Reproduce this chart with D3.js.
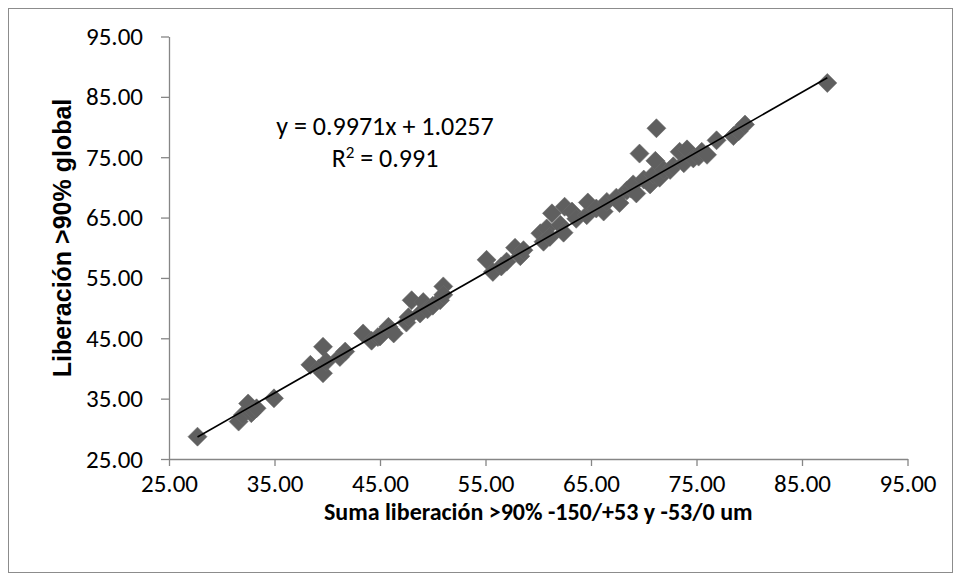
<!DOCTYPE html>
<html>
<head>
<meta charset="utf-8">
<script src="https://cdn.jsdelivr.net/npm/d3@7"></script>
<style>
  html, body { margin: 0; padding: 0; background: #fff; }
  svg { display: block; }
</style>
</head>
<body>
<svg id="chart" width="961" height="581"></svg>
<script>
// Liberación individual (suma de fracciones) vs liberación global, %
const xVals = [
  27.7, 31.6, 32.0, 32.5, 32.8, 33.0, 33.3, 34.95,
  38.4, 39.2, 39.6, 39.6, 39.9, 41.2, 41.7,
  43.4, 44.2, 44.8, 45.0, 45.8, 46.0, 46.3, 47.5, 47.7, 48.0, 48.8, 49.1, 49.5, 50.0, 50.7, 51.0, 51.0,
  55.1, 55.7, 56.5, 57.0, 57.8, 58.3, 58.6,
  60.2, 60.5, 60.8, 61.1, 61.3, 62.1, 62.4, 62.5, 63.2, 63.6, 64.6, 64.7, 65.5, 66.2, 66.5, 67.4, 67.7,
  68.4, 68.8, 69.0, 69.3, 69.6, 70.0, 70.6, 70.9, 71.1, 71.2, 71.5, 71.9, 72.5, 72.8,
  73.4, 73.8, 74.1, 74.7, 75.2, 75.5, 76.0, 76.9, 78.5, 79.0, 79.6, 87.4
];
const yVals = [
  28.7, 31.2, 32.3, 34.2, 32.6, 33.0, 33.4, 35.05,
  40.6, 40.0, 39.2, 43.6, 41.1, 41.9, 42.8,
  45.8, 44.6, 45.2, 45.3, 46.9, 46.4, 45.8, 47.6, 48.5, 51.3, 49.1, 51.0, 49.8, 50.4, 51.3, 53.6, 52.2,
  58.0, 56.0, 56.9, 57.7, 60.0, 58.6, 59.6,
  62.4, 61.0, 63.2, 61.8, 65.7, 63.8, 62.5, 66.8, 66.0, 64.8, 65.4, 67.5, 66.5, 66.0, 67.6, 68.3, 67.4,
  69.5, 69.8, 70.5, 69.0, 75.6, 71.3, 70.5, 72.1, 74.4, 79.8, 71.6, 72.9, 72.9, 73.5,
  75.9, 74.0, 76.3, 74.8, 75.1, 75.9, 75.4, 77.8, 78.5, 79.3, 80.4, 87.3
];
const tickVals = [25, 35, 45, 55, 65, 75, 85, 95];
const slope = 0.9971, intercept = 1.0257, r2 = 0.991;
const xTitle = "Suma liberación >90% -150/+53 y -53/0 um";
const yTitle = "Liberación >90% global";

const svg = d3.select("#chart");
const W = 961, H = 581;
const labelFont = "Carlito, Calibri, Lato, sans-serif";
const labelSize = "25px";

svg.append("rect").attr("x", 0).attr("y", 0).attr("width", W).attr("height", H).attr("fill", "#fff");
svg.append("rect")
  .attr("x", 8.5).attr("y", 8.5).attr("width", 944).attr("height", 564)
  .attr("fill", "none").attr("stroke", "#8c8c8c").attr("stroke-width", 1);

const x = d3.scaleLinear().domain([25, 95]).range([169, 907.5]);
const y = d3.scaleLinear().domain([25, 95]).range([459, 36.5]);
const fmt = d3.format(".2f");

const xAxis = svg.append("g")
  .attr("transform", `translate(0,${y(25)})`)
  .call(d3.axisBottom(x).tickValues(tickVals).tickFormat(fmt).tickSizeInner(7).tickSizeOuter(0).tickPadding(8));
const yAxis = svg.append("g")
  .attr("transform", `translate(${x(25)},0)`)
  .call(d3.axisLeft(y).tickValues(tickVals).tickFormat(fmt).tickSizeInner(8).tickSizeOuter(0).tickPadding(18));

[xAxis, yAxis].forEach(g => {
  g.select(".domain").attr("stroke", "#868686").attr("stroke-width", 1.3);
  g.selectAll(".tick line").attr("stroke", "#868686").attr("stroke-width", 1.3);
  g.selectAll(".tick text")
    .attr("fill", "#000")
    .style("font-family", labelFont)
    .style("font-size", labelSize);
});

// data markers (diamonds)
const pts = xVals.map((v, i) => [v, yVals[i]]);
const half = 9.5;
svg.append("g").selectAll("path")
  .data(pts)
  .join("path")
  .attr("d", d => {
    const cx = x(d[0]), cy = y(d[1]);
    return `M${cx},${cy - half}L${cx + half},${cy}L${cx},${cy + half}L${cx - half},${cy}Z`;
  })
  .attr("fill", "#5f5f5f")
  .attr("stroke", "#6a6a6a")
  .attr("stroke-width", 0.6);

// linear trendline over the data range
const xMin = d3.min(xVals), xMax = d3.max(xVals);
svg.append("line")
  .attr("x1", x(xMin)).attr("y1", y(slope * xMin + intercept))
  .attr("x2", x(xMax)).attr("y2", y(slope * xMax + intercept))
  .attr("stroke", "#000").attr("stroke-width", 1.6);

// trendline equation, both lines centred on one axis
const eqCx = 385;
svg.append("text")
  .attr("x", eqCx).attr("y", 135)
  .attr("text-anchor", "middle")
  .style("font-family", labelFont).style("font-size", "26px")
  .text(`y = ${slope}x + ${intercept}`);
const r2Text = svg.append("text")
  .attr("x", eqCx).attr("y", 167)
  .attr("text-anchor", "middle")
  .style("font-family", labelFont).style("font-size", "26px");
r2Text.append("tspan").text("R");
r2Text.append("tspan").attr("dy", -9).style("font-size", "17px").text("2");
r2Text.append("tspan").attr("dy", 9).text(` = ${r2}`);

// axis titles
svg.append("text")
  .attr("x", (x(25) + x(95)) / 2).attr("y", 520)
  .attr("text-anchor", "middle")
  .style("font-family", labelFont).style("font-weight", "bold").style("font-size", "24px")
  .text(xTitle);
svg.append("text")
  .attr("transform", `translate(71,238) rotate(-90)`)
  .attr("text-anchor", "middle")
  .style("font-family", "'Liberation Sans', Arial, sans-serif").style("font-weight", "bold").style("font-size", "25px")
  .text(yTitle);
</script>
</body>
</html>
